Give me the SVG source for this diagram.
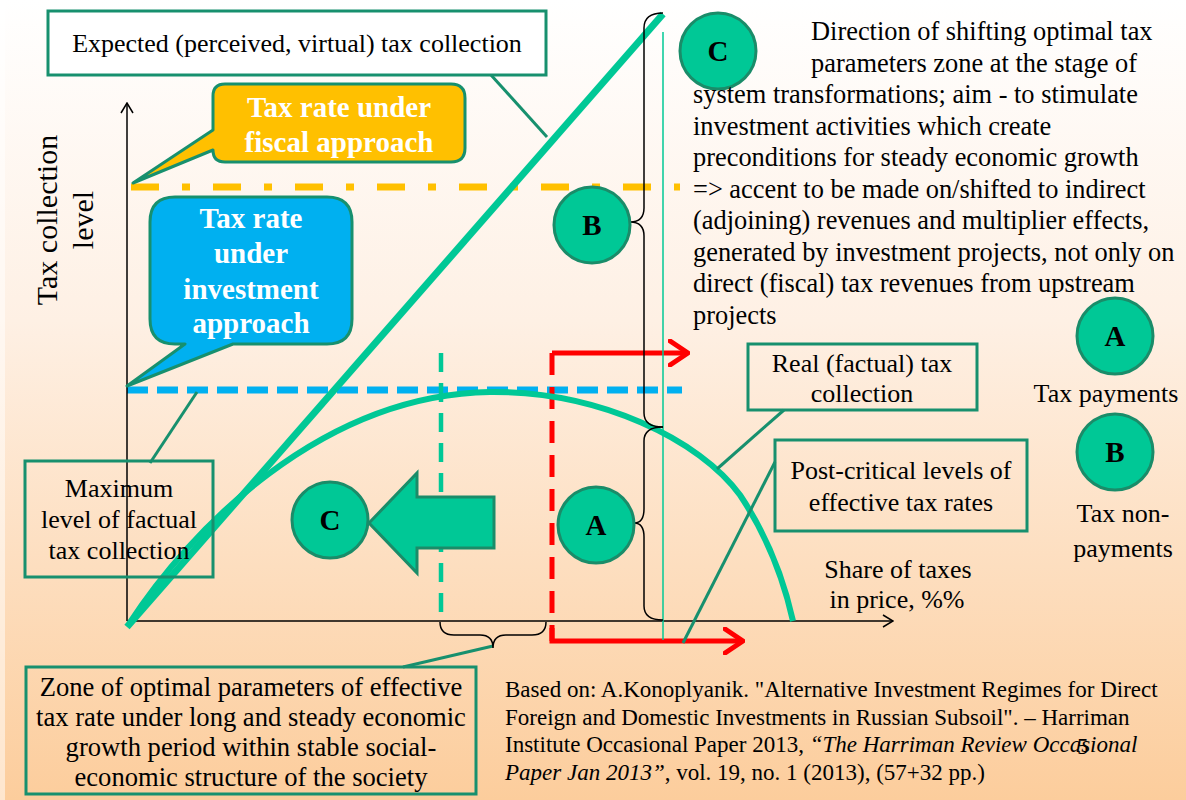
<svg xmlns="http://www.w3.org/2000/svg" width="1186" height="800" viewBox="0 0 1186 800">
<defs>
  <linearGradient id="bg" x1="0" y1="0" x2="0" y2="1">
    <stop offset="0" stop-color="#FFFFFF"/>
    <stop offset="0.4" stop-color="#FEF0E4"/>
    <stop offset="1" stop-color="#FCCD9C"/>
  </linearGradient>
  <marker id="axisHead" viewBox="0 0 12 14" refX="11" refY="7" markerWidth="12" markerHeight="14" markerUnits="userSpaceOnUse" orient="auto">
    <path d="M1,1 L11,7 L1,13" fill="none" stroke="#000" stroke-width="1.5"/>
  </marker>
  <marker id="redHead" viewBox="0 0 22 28" refX="20" refY="14" markerWidth="22" markerHeight="28" markerUnits="userSpaceOnUse" orient="auto">
    <path d="M2,2 L20,14 L2,26" fill="none" stroke="#FF0000" stroke-width="5" stroke-linecap="round" stroke-linejoin="round"/>
  </marker>
  <style>
    .t{font-family:"Liberation Serif","Times New Roman",serif;fill:#000;font-size:26px}
    .c{text-anchor:middle}
    .ax{font-size:30px}
    .zn{font-size:26.6px}
    .nt{font-size:26.4px}
    .ref{font-size:23px}
    .wb{font-family:"Liberation Serif","Times New Roman",serif;font-weight:bold;fill:#FFFFFF;font-size:29px;text-anchor:middle}
    .box{fill:none;stroke:#17906E;stroke-width:3}
    .circ{fill:#00C896;stroke:#1A8C69;stroke-width:3}
    .lbl{font-family:"Liberation Serif","Times New Roman",serif;font-weight:bold;font-size:29px;text-anchor:middle;fill:#000}
    .lead{stroke:#17906E;stroke-width:3;fill:none}
    .brace{fill:none;stroke:#000;stroke-width:1.5}
    .red{stroke:#FF0000;stroke-width:5;fill:none}
    .axis{stroke:#000;stroke-width:1.5;fill:none}
  </style>
</defs>

<!-- backdrop -->
<rect x="0" y="0" width="1186" height="800" fill="url(#bg)"/>
<rect x="0" y="0" width="5" height="800" fill="#FFFFFF" opacity="0.5"/>

<!-- rate levels -->
<g id="levels">
  <line x1="131" y1="187" x2="680" y2="187" stroke="#FFC000" stroke-width="7" stroke-dasharray="28 23 8 23"/>
  <line x1="127" y1="390" x2="682" y2="390" stroke="#00B0F0" stroke-width="7" stroke-dasharray="21 9"/>
</g>

<!-- axes -->
<g id="axes">
  <line class="axis" x1="127" y1="621" x2="127" y2="103" marker-end="url(#axisHead)"/>
  <line class="axis" x1="127" y1="621" x2="893" y2="621" marker-end="url(#axisHead)"/>
  <text class="t c ax" transform="translate(57,220) rotate(-90)">Tax collection</text>
  <text class="t c ax" transform="translate(93,220) rotate(-90)">level</text>
  <text class="t c" x="898" y="578">Share of taxes</text>
  <text class="t c" x="897" y="608">in price, %%</text>
</g>

<!-- zone boundaries -->
<g id="zone-bounds">
  <line x1="441" y1="353" x2="441" y2="621" stroke="#00C896" stroke-width="4.5" stroke-dasharray="19 11"/>
  <line class="red" x1="552" y1="353" x2="552" y2="641" stroke-dasharray="22 12"/>
  <path class="red" d="M552,353 H688" marker-end="url(#redHead)"/>
  <path class="red" d="M552,628 V641 H743" marker-end="url(#redHead)"/>
</g>

<!-- tax collection curves -->
<g id="curves">
  <path d="M127,627 L663,14" stroke="#00C896" stroke-width="7" fill="none"/>
  <path d="M129,624 C190,530 320,395 490,392 C600,391 700,440 740,495 C770,540 785,585 793,621" stroke="#00C896" stroke-width="6" fill="none"/>
  <line x1="663" y1="32" x2="663" y2="640" stroke="#00C896" stroke-width="1.5"/>
</g>

<!-- connectors: leaders and braces -->
<g id="connectors">
  <line class="lead" x1="491" y1="75" x2="547" y2="137"/>
  <line class="lead" x1="150" y1="463" x2="197" y2="392"/>
  <line class="lead" x1="784" y1="410" x2="717" y2="469"/>
  <line class="lead" x1="775" y1="462" x2="683" y2="643"/>
  <line class="lead" x1="403" y1="667" x2="493" y2="646"/>
  <path class="brace" d="M663,13 Q644,13 644,28 L644,208 Q644,222 630,222 Q644,222 644,236 L644,413 Q644,427 663,427"/>
  <path class="brace" d="M663,427 Q644,427 644,441 L644,509 Q644,523 634,523 Q644,523 644,537 L644,606 Q644,620 663,620"/>
  <path class="brace" d="M440,622 Q440,635 454,635 L480,635 Q493,635 493,648 Q493,635 506,635 L532,635 Q546,635 546,622"/>
</g>

<!-- labelled boxes -->
<g id="box-expected">
  <rect x="48" y="11" width="498" height="64" fill="#FFFFFF" stroke="#17906E" stroke-width="3"/>
  <text class="t c" x="297" y="52">Expected (perceived, virtual) tax collection</text>
</g>

<g id="callout-fiscal">
  <path d="M225,84 H451 Q465,84 465,98 V148 Q465,162 451,162 H225 Q213,162 213,150 L133,183 L213,130 V96 Q213,84 225,84 Z" fill="#FFC000" stroke="#17906E" stroke-width="3" stroke-linejoin="round"/>
  <text class="wb" x="339" y="117">Tax rate under</text>
  <text class="wb" x="339" y="152">fiscal approach</text>
</g>

<g id="callout-investment">
  <path d="M175,197 H327 Q352,197 352,222 V319 Q352,344 327,344 H233 L127,386 L185,344 H175 Q150,344 150,319 V222 Q150,197 175,197 Z" fill="#00B0F0" stroke="#17906E" stroke-width="3" stroke-linejoin="round"/>
  <text class="wb" x="251" y="228">Tax rate</text>
  <text class="wb" x="251" y="263">under</text>
  <text class="wb" x="251" y="299">investment</text>
  <text class="wb" x="251" y="333">approach</text>
</g>

<g id="box-maximum">
  <rect class="box" x="25" y="461" width="188" height="116"/>
  <text class="t c" x="119" y="497">Maximum</text>
  <text class="t c" x="119" y="528">level of factual</text>
  <text class="t c" x="119" y="559">tax collection</text>
</g>

<g id="box-real">
  <rect class="box" x="748" y="344" width="229" height="66"/>
  <text class="t c" x="862" y="372">Real (factual) tax</text>
  <text class="t c" x="862" y="402">collection</text>
</g>

<g id="box-postcritical">
  <rect class="box" x="775" y="440" width="252" height="91"/>
  <text class="t c" x="901" y="479">Post-critical levels of</text>
  <text class="t c" x="901" y="511">effective tax rates</text>
</g>

<g id="box-zone">
  <rect class="box" x="26" y="667" width="450" height="127"/>
  <text class="t c zn" x="251" y="696">Zone of optimal parameters of effective</text>
  <text class="t c zn" x="251" y="726">tax rate under long and steady economic</text>
  <text class="t c zn" x="251" y="756">growth period within stable social-</text>
  <text class="t c zn" x="251" y="786">economic structure of the society</text>
</g>

<!-- shift arrow -->
<g id="arrow-shift">
  <path d="M369,523 L417,473 L417,497 L494,497 L494,548 L417,548 L417,573 Z" fill="#00C896" stroke="#1A8C69" stroke-width="3" stroke-linejoin="miter"/>
</g>

<!-- markers -->
<g id="circle-c-left">
  <circle class="circ" cx="330" cy="520" r="38"/>
  <text class="lbl" x="330" y="530">C</text>
</g>
<g id="circle-a-mid">
  <circle class="circ" cx="596" cy="525" r="38"/>
  <text class="lbl" x="596" y="535">A</text>
</g>
<g id="circle-b-mid">
  <circle class="circ" cx="592" cy="225" r="38"/>
  <text class="lbl" x="592" y="235">B</text>
</g>
<g id="circle-c-top">
  <circle class="circ" cx="718" cy="51" r="38"/>
  <text class="lbl" x="718" y="61">C</text>
</g>

<!-- explanation -->
<g id="note-direction">
  <text class="t nt">
    <tspan x="811" y="40">Direction of shifting optimal tax</tspan>
    <tspan x="811" y="72">parameters zone at the stage of</tspan>
    <tspan x="693" y="103">system transformations; aim - to stimulate</tspan>
    <tspan x="693" y="135">investment activities which create</tspan>
    <tspan x="693" y="166">preconditions for steady economic growth</tspan>
    <tspan x="693" y="198">=&gt; accent to be made on/shifted to indirect</tspan>
    <tspan x="693" y="229">(adjoining) revenues and multiplier effects,</tspan>
    <tspan x="693" y="261">generated by investment projects, not only on</tspan>
    <tspan x="693" y="292">direct (fiscal) tax revenues from upstream</tspan>
    <tspan x="693" y="324">projects</tspan>
  </text>
</g>

<!-- legend -->
<g id="legend-a">
  <circle class="circ" cx="1115" cy="336" r="38"/>
  <text class="lbl" x="1115" y="346">A</text>
  <text class="t c" x="1106" y="402">Tax payments</text>
</g>
<g id="legend-b">
  <circle class="circ" cx="1115" cy="452" r="38"/>
  <text class="lbl" x="1115" y="462">B</text>
  <text class="t c" x="1123" y="522">Tax non-</text>
  <text class="t c" x="1123" y="557">payments</text>
</g>

<!-- source -->
<g id="citation">
  <text class="t ref">
    <tspan x="505" y="697">Based on: A.Konoplyanik. "Alternative Investment Regimes for Direct</tspan>
    <tspan x="505" y="725">Foreign and Domestic Investments in Russian Subsoil". – Harriman</tspan>
    <tspan x="505" y="752">Institute Occasional Paper 2013, <tspan font-style="italic">“The Harriman Review Occasional</tspan></tspan>
    <tspan x="505" y="780"><tspan font-style="italic">Paper Jan 2013”</tspan>, vol. 19, no. 1 (2013), (57+32 pp.)</tspan>
  </text>
  <text class="t ref" x="1077" y="754">5</text>
</g>
</svg>
